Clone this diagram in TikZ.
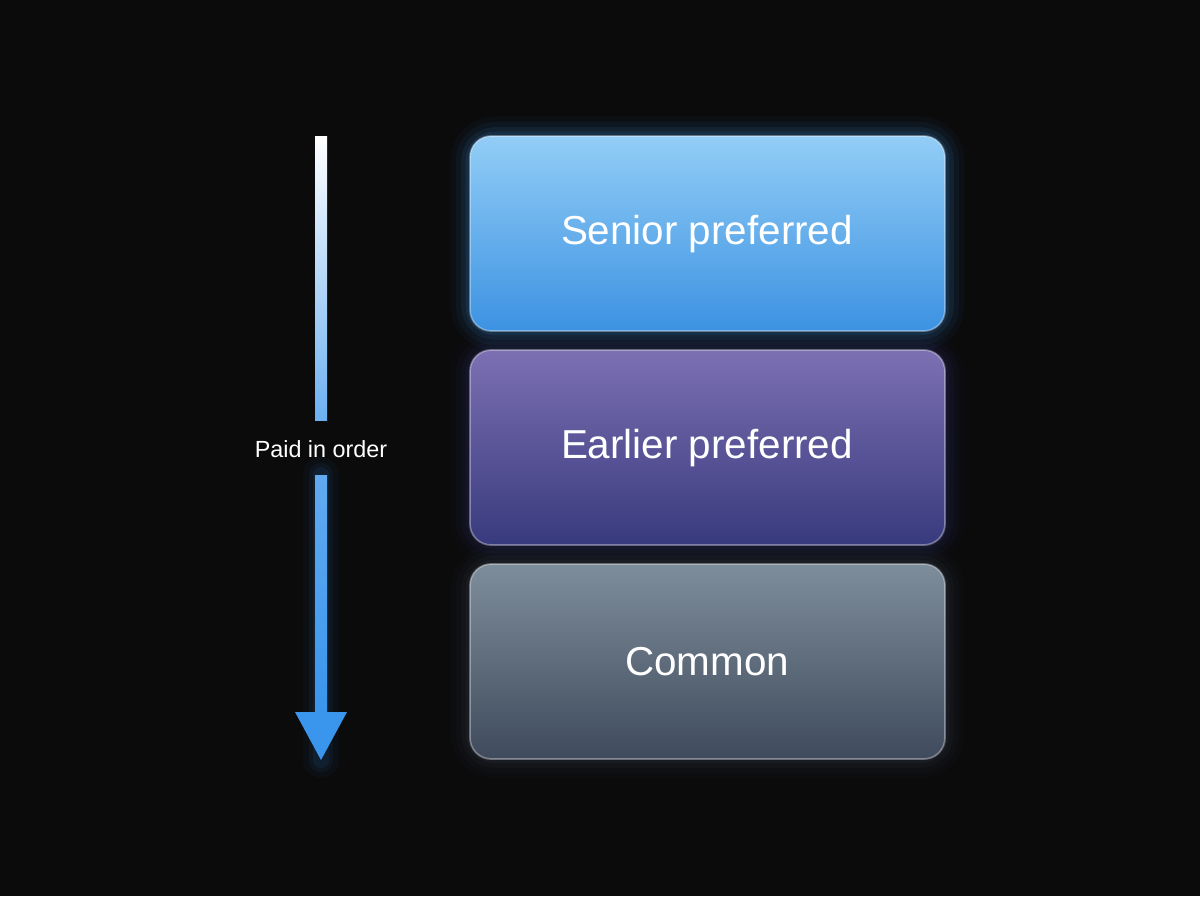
\documentclass[tikz,border=0pt]{standalone}
\usepackage{fontspec}
\setmainfont{Liberation Sans}
\usetikzlibrary{calc}
\definecolor{bg}{HTML}{0B0B0C}
\definecolor{aT}{HTML}{92CDF6}\definecolor{aB}{HTML}{3C92E2}
\definecolor{bT}{HTML}{7C70B2}\definecolor{bB}{HTML}{383A7E}
\definecolor{cT}{HTML}{7E8D9B}\definecolor{cB}{HTML}{3F4B5C}
\definecolor{arr}{HTML}{3A95EC}
\begin{document}
\begin{tikzpicture}[x=0.02cm,y=-0.02cm,
  lbl/.style={text=white,font=\fontsize{23}{27}\selectfont},
  box/.style={rounded corners=12pt,draw=white,draw opacity=0.35,line width=1pt}]
\fill[bg] (0,0) rectangle (1200,896);
\useasboundingbox (0,0) rectangle (1200,896);
% glows
\foreach \y/\c in {136/aB,350/bB,564/cB}{
  \foreach \w/\o in {22/0.04,16/0.06,10/0.09,5/0.12}{
    \draw[\c,line width=\w pt,opacity=\o,rounded corners=14pt] (470,\y) rectangle (945,\y+195);}}
\shade[box,top color=aT,bottom color=aB] (470,136) rectangle (945,331);
\shade[box,top color=bT,bottom color=bB] (470,350) rectangle (945,545);
\shade[box,top color=cT,bottom color=cB] (470,564) rectangle (945,759);
\node[lbl] (a) at (707,234) {Senior preferred};
\node[lbl] (b) at (707,448) {Earlier preferred};
\node[lbl] (c) at (707,662) {Common};
% arrow
\coordinate (s1) at (321,136);
\coordinate (s2) at (321,420);
\coordinate (s3) at (321,475);
\coordinate (s4) at (321,712);
\coordinate (tip) at (321,760);
\node[text=white,font=\fontsize{13.3}{16}\selectfont] (p) at (321,449) {Paid in order};
\foreach \w/\o in {20/0.04,14/0.06,9/0.08}{
  \draw[arr,line width=\w pt,opacity=\o,line cap=round] (s3) -- (tip);}
\shade[top color=white,bottom color=arr!75!white] ($(s1)+(-6,0)$) rectangle ($(s2)+(6,0)$);
\shade[top color=arr!80!white,bottom color=arr] ($(s3)+(-6,0)$) rectangle ($(s4)+(6,0)$);
\fill[arr] ($(s4)+(-26,0)$) -- ($(s4)+(26,0)$) -- (tip) -- cycle;
\end{tikzpicture}
\end{document}
